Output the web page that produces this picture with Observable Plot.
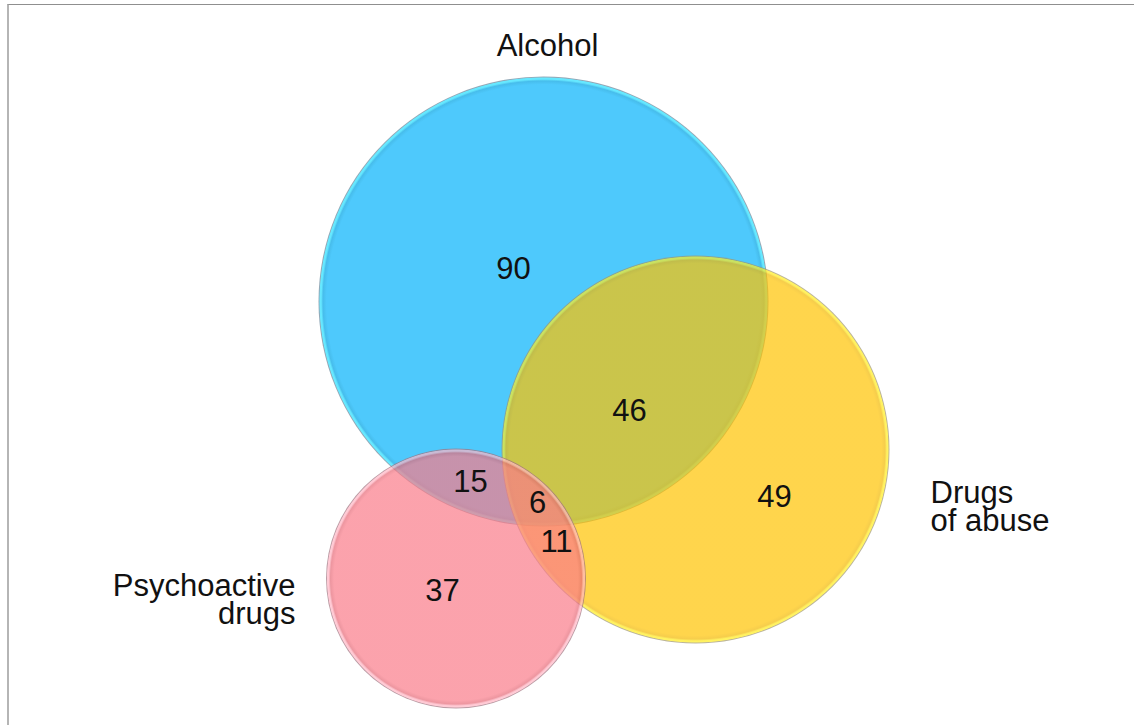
<!DOCTYPE html>
<html>
<head>
<meta charset="utf-8">
<script src="https://cdn.jsdelivr.net/npm/d3@7"></script>
<script src="https://cdn.jsdelivr.net/npm/@observablehq/plot@0.6"></script>
<style>
  html, body { margin: 0; padding: 0; background: #fff; }
  #wrap { position: relative; width: 1134px; height: 725px; overflow: hidden; }
  #wrap svg { position: absolute; left: 0; top: 0; }
  #frame {
    position: absolute; left: 7px; top: 4px; right: -4px; bottom: -4px;
    border-top: 1.5px solid #8f8f8f; border-left: 2px solid #b5b5b5;
    pointer-events: none;
  }
</style>
</head>
<body>
<div id="wrap"><div id="frame"></div></div>
<script>
// Sets of the Venn diagram
const sets = ["Alcohol", "Drugs of abuse", "Psychoactive drugs"];
const setLabels = ["Alcohol", "Drugs\nof abuse", "Psychoactive\ndrugs"];

// Counts in each region of the diagram
const regionNames = ["Alcohol only", "Alcohol + Drugs of abuse", "Drugs of abuse only",
  "Alcohol + Psychoactive", "All three", "Drugs of abuse + Psychoactive", "Psychoactive only"];
const regionCounts = [90, 46, 49, 15, 6, 11, 37];

// Layout of the diagram (chart units)
const circleX = [543, 695, 455.5];
const circleY = [301, 449, 578];
const circleR = [225, 194, 130];
const setLabelX = [547, 930, 295];
const setLabelY = [47, 483, 576];
const setLabelAnchor = ["middle", "start", "end"];
const setLabelLine = ["middle", "top", "top"];
const regionX = [513, 629, 774, 470, 537, 556, 442];
const regionY = [269, 411, 497, 482, 503, 542, 591];

// Circle styling: base, edge shade, bright rim, outline, opacity
const circleStyle = [
  {base: "#4ec9fc", shade: "#47bdec", rim: "#66e8ff", line: "#93a9b8", opacity: 1},
  {base: "rgb(255,195,0)", shade: "rgb(242,184,0)", rim: "rgb(255,236,30)", line: "rgb(160,150,110)", opacity: 0.7},
  {base: "rgb(250,123,137)", shade: "rgb(230,106,120)", rim: "rgb(255,180,195)", line: "rgb(160,116,128)", opacity: 0.7}
];

const circles = sets.map((name, i) => ({name, x: circleX[i], y: circleY[i], r: circleR[i], i}));
const setText = sets.map((name, i) => ({label: setLabels[i], x: setLabelX[i], y: setLabelY[i], i}));
const regions = regionCounts.map((value, i) => ({name: regionNames[i], value, x: regionX[i], y: regionY[i]}));

const font = "'Liberation Sans', Arial, sans-serif";

const svg = Plot.plot({
  width: 1134,
  height: 725,
  margin: 0,
  x: {domain: [0, 1134], range: [0, 1134], axis: null},
  y: {domain: [0, 725], range: [0, 725], axis: null},
  r: {type: "identity"},
  style: {background: "transparent", overflow: "visible"},
  marks: [
    ...circles.map((c) => Plot.dot([c], {
      x: "x", y: "y", r: "r",
      fill: `url(#venn-grad-${c.i})`,
      fillOpacity: circleStyle[c.i].opacity,
      stroke: "none"
    })),
    ...setText.map((t) => Plot.text([t], {
      x: "x", y: "y", text: "label",
      textAnchor: setLabelAnchor[t.i],
      lineAnchor: setLabelLine[t.i],
      lineHeight: 0.9,
      fontSize: 31,
      fontFamily: font,
      fill: "#111"
    })),
    Plot.text(regions, {
      x: "x", y: "y", text: d => String(d.value),
      fontSize: 31,
      fontFamily: font,
      fill: "#111",
      ariaLabel: "counts"
    })
  ]
});

// Radial gradients giving each circle its bevelled rim
const defs = d3.select(svg).insert("defs", ":first-child");
circles.forEach((c) => {
  const s = circleStyle[c.i];
  const f = px => Math.max(0, 1 - px / c.r);
  const g = defs.append("radialGradient")
    .attr("id", `venn-grad-${c.i}`)
    .attr("cx", "50%").attr("cy", "50%").attr("r", "50%");
  [
    [0, s.base], [f(8), s.base], [f(4.5), s.shade], [f(2.6), s.rim],
    [f(1.4), s.rim], [f(0.6), s.line], [1, s.line]
  ].forEach(([o, col]) => g.append("stop").attr("offset", o).attr("stop-color", col));
});

d3.select(svg).selectAll('g[aria-label="counts"] text').attr("letter-spacing", "2px");

document.getElementById("wrap").prepend(svg);
</script>
</body>
</html>
